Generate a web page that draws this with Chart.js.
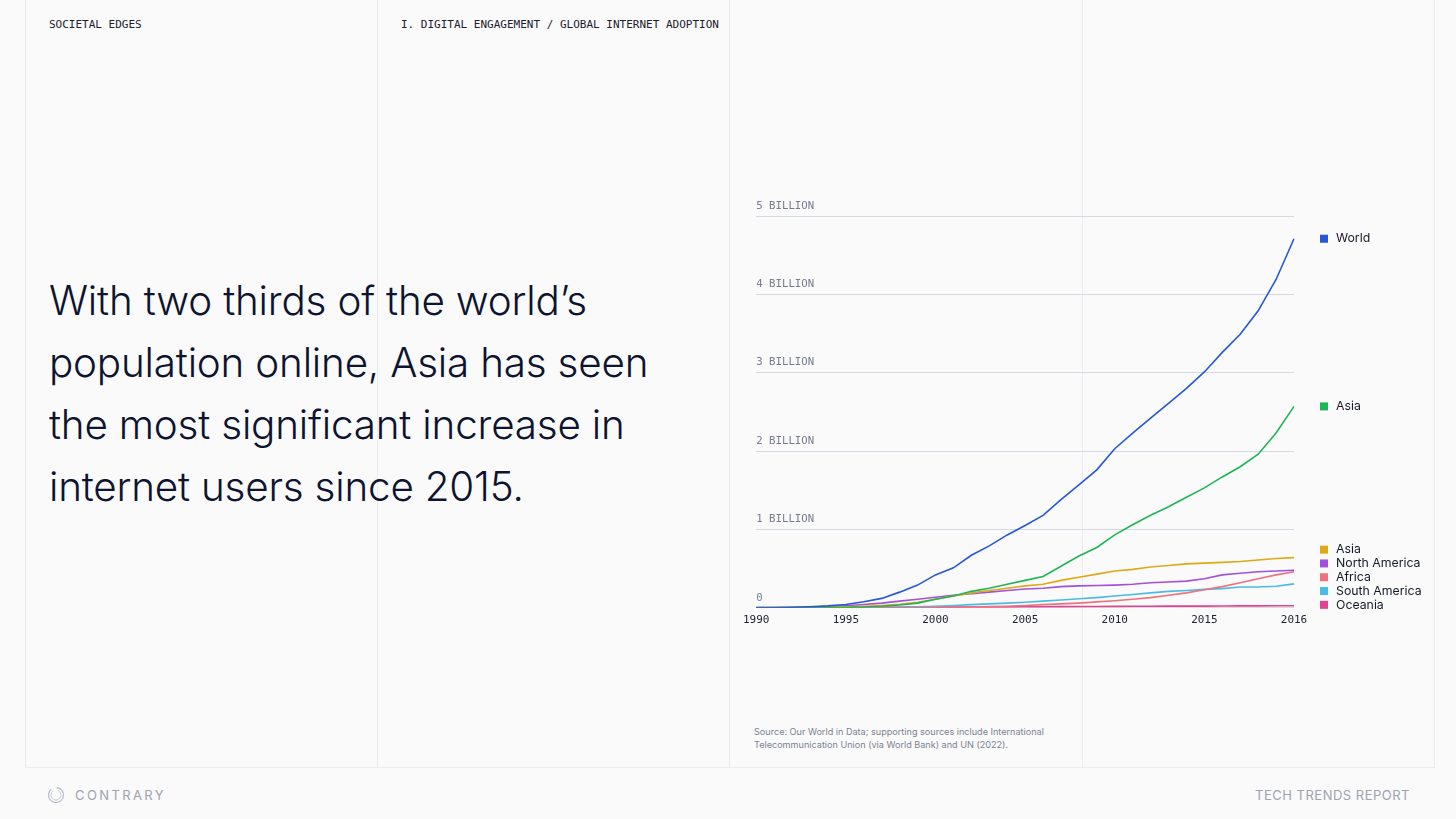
<!DOCTYPE html>
<html>
<head>
<meta charset="utf-8">
<script src="https://cdn.jsdelivr.net/npm/chart.js@4.4.0/dist/chart.umd.min.js"></script>
<style>
  html, body { margin: 0; padding: 0; }
  body { width: 1456px; height: 819px; background: #fafafa; position: relative; overflow: hidden; font-family: "Inter", sans-serif; }
  .vline { position: absolute; top: 0; height: 767px; width: 1px; background: #ececee; }
  .hline { position: absolute; left: 25px; width: 1410px; top: 767px; height: 1px; background: #ececee; }
  .mono { position: absolute; font-family: "DejaVu Sans Mono", monospace; font-size: 11px; color: #1c2030; }
  .headline { position: absolute; left: 49px; top: 270px; font-size: 40.4px; font-weight: 300; line-height: 62px; color: #0e1430; letter-spacing: -0.2px; }
  .source { position: absolute; left: 754px; top: 725px; font-size: 9.1px; line-height: 13px; color: #7b8194; }
  .footer { position: absolute; top: 787px; font-size: 13px; color: #9ea3b0; }
  #wrap { position: absolute; left: 737px; top: 180px; width: 703px; height: 467px; }
</style>
</head>
<body>
<div class="vline" style="left:25px"></div>
<div class="vline" style="left:377px"></div>
<div class="vline" style="left:729px"></div>
<div class="vline" style="left:1082px"></div>
<div class="vline" style="left:1434px"></div>
<div class="hline"></div>

<div class="mono" style="left:49px; top:18px;">SOCIETAL EDGES</div>
<div class="mono" style="left:401px; top:18px;">I. DIGITAL ENGAGEMENT / GLOBAL INTERNET ADOPTION</div>

<div class="headline">With two thirds of the world’s<br>population online, Asia has seen<br>the most significant increase in<br>internet users since 2015.</div>

<div class="source">Source: Our World in Data; supporting sources include International<br>Telecommunication Union (via World Bank) and UN (2022).</div>

<div class="footer" style="left:48px; top:785px;">
  <svg width="18" height="20" viewBox="0 0 18 20" style="vertical-align:middle">
    <circle cx="8" cy="10" r="7.5" fill="none" stroke="#b8bcc7" stroke-width="1.2" stroke-dasharray="30 6"/>
    <circle cx="8" cy="10" r="5" fill="none" stroke="#c8ccd5" stroke-width="1" stroke-dasharray="20 5"/>
  </svg>
</div>
<div class="footer" style="left:75px; letter-spacing:2.4px;">CONTRARY</div>
<div class="footer" style="right:46px; letter-spacing:0.5px;">TECH TRENDS REPORT</div>

<div id="wrap"><canvas id="grafico"></canvas></div>

<script>
// anos 1990..2020, valores em bilhões de usuários
const years = [];
for (let y = 1990; y <= 2020; y++) years.push(String(y));

const xTickLabels = ['1990', '1995', '2000', '2005', '2010', '2015', '2016'];
const yTickLabels = ['0', '1 BILLION', '2 BILLION', '3 BILLION', '4 BILLION', '5 BILLION'];

const seriesNames = ['World', 'Asia', 'Asia', 'North America', 'Africa', 'South America', 'Oceania'];
const seriesColors = ['#2458d8', '#1fb556', '#dfa915', '#a150de', '#ef717f', '#49bbe6', '#e1448e'];

const world = [0.003, 0.004, 0.007, 0.014, 0.025, 0.042, 0.077, 0.12, 0.2, 0.29, 0.42, 0.51, 0.67, 0.79, 0.93, 1.05, 1.18, 1.38, 1.57, 1.76, 2.03, 2.23, 2.42, 2.61, 2.8, 3.01, 3.26, 3.49, 3.79, 4.19, 4.71];
const asia = [0, 0.001, 0.001, 0.002, 0.003, 0.006, 0.011, 0.02, 0.035, 0.06, 0.11, 0.15, 0.21, 0.25, 0.3, 0.35, 0.4, 0.53, 0.66, 0.77, 0.93, 1.06, 1.18, 1.29, 1.41, 1.53, 1.67, 1.8, 1.96, 2.23, 2.57];
const asia2 = [0.001, 0.002, 0.003, 0.005, 0.008, 0.012, 0.02, 0.03, 0.045, 0.07, 0.11, 0.15, 0.19, 0.22, 0.25, 0.28, 0.3, 0.35, 0.39, 0.43, 0.47, 0.49, 0.52, 0.54, 0.56, 0.57, 0.58, 0.59, 0.61, 0.63, 0.64];
const northAmerica = [0.003, 0.004, 0.006, 0.01, 0.016, 0.027, 0.042, 0.06, 0.085, 0.11, 0.135, 0.16, 0.18, 0.2, 0.22, 0.24, 0.25, 0.27, 0.28, 0.285, 0.29, 0.3, 0.32, 0.33, 0.34, 0.37, 0.42, 0.44, 0.46, 0.47, 0.48];
const africa = [0, 0, 0, 0, 0, 0.001, 0.001, 0.002, 0.002, 0.003, 0.005, 0.007, 0.01, 0.015, 0.02, 0.03, 0.04, 0.05, 0.06, 0.075, 0.09, 0.11, 0.13, 0.16, 0.19, 0.23, 0.27, 0.32, 0.37, 0.42, 0.46];
const southAmerica = [0, 0, 0, 0, 0.001, 0.002, 0.003, 0.005, 0.008, 0.013, 0.02, 0.03, 0.04, 0.05, 0.06, 0.07, 0.085, 0.1, 0.115, 0.13, 0.15, 0.17, 0.19, 0.21, 0.22, 0.235, 0.245, 0.265, 0.265, 0.275, 0.305];
const oceania = [0, 0.001, 0.001, 0.001, 0.002, 0.003, 0.004, 0.005, 0.006, 0.007, 0.008, 0.009, 0.01, 0.011, 0.012, 0.013, 0.014, 0.015, 0.016, 0.017, 0.018, 0.019, 0.02, 0.021, 0.022, 0.022, 0.023, 0.024, 0.025, 0.026, 0.027];

const allSeries = [world, asia, asia2, northAmerica, africa, southAmerica, oceania];

// legenda desenhada à direita do gráfico
const legendaLateral = {
  id: 'legendaLateral',
  afterDraw(chart) {
    const ctx = chart.ctx;
    const yScale = chart.scales.y;
    const x0 = chart.chartArea.right + 26;
    ctx.save();
    ctx.font = '12.3px Inter, sans-serif';
    ctx.textBaseline = 'middle';
    const rows = [];
    // World e Asia ficam na altura do último valor
    rows.push(yScale.getPixelForValue(world[world.length - 1]));
    rows.push(yScale.getPixelForValue(asia[asia.length - 1]));
    // o resto fica empilhado
    const top = yScale.getPixelForValue(asia2[asia2.length - 1]) - 8;
    for (let i = 0; i < 5; i++) rows.push(top + i * 13.8);
    rows.forEach((y, i) => {
      ctx.fillStyle = seriesColors[i];
      ctx.fillRect(x0, y - 4, 8, 8);
      ctx.fillStyle = '#151a28';
      ctx.fillText(seriesNames[i], x0 + 16, y);
    });
    ctx.restore();
  }
};

const ctx = document.getElementById('grafico').getContext('2d');
const grafico = new Chart(ctx, {
  type: 'line',
  data: {
    labels: years,
    datasets: allSeries.map((d, i) => ({
      label: seriesNames[i],
      data: d,
      borderColor: seriesColors[i],
      backgroundColor: seriesColors[i],
      borderWidth: 1.6,
      pointRadius: 0,
      tension: 0
    }))
  },
  options: {
    responsive: true,
    maintainAspectRatio: false,
    animation: false,
    layout: { padding: { left: 11, right: 146, top: 36, bottom: 14 } },
    plugins: { legend: { display: false }, tooltip: { enabled: false } },
    scales: {
      x: {
        grid: { display: false, drawTicks: false },
        border: { display: false },
        ticks: {
          autoSkip: false,
          maxRotation: 0,
          padding: 6,
          color: '#1c2030',
          font: { family: 'DejaVu Sans Mono', size: 11 },
          callback: (v, i) => (i % 5 === 0 ? xTickLabels[i / 5] : null)
        }
      },
      y: {
        min: 0,
        max: 5,
        grid: { color: '#d6d9e1', drawTicks: false, lineWidth: 1 },
        border: { display: false },
        ticks: {
          stepSize: 1,
          mirror: true,
          padding: 0,
          labelOffset: -10,
          color: '#767c8f',
          font: { family: 'DejaVu Sans Mono', size: 10.7 },
          callback: (v, i) => yTickLabels[i]
        }
      }
    }
  },
  plugins: [legendaLateral]
});
</script>
</body>
</html>
